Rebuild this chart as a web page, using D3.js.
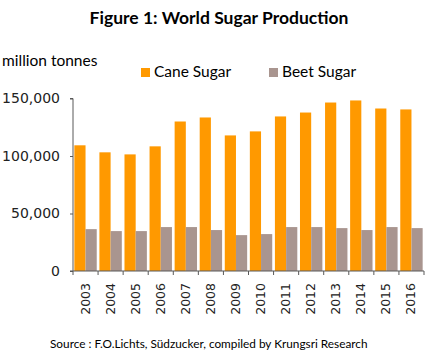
<!DOCTYPE html>
<html><head><meta charset="utf-8">
<script src="https://cdn.jsdelivr.net/npm/d3@7"></script>
<style>body{margin:0;background:#fff}svg{display:block}</style>
</head><body>
<script>
const years = ["2003","2004","2005","2006","2007","2008","2009","2010","2011","2012","2013","2014","2015","2016"];
const caneSugar = [109300,103200,101400,108400,130000,133500,117900,121400,134400,137800,146500,148300,141300,140500];
const beetSugar = [36400,34700,34700,38200,38200,35600,31200,32100,38200,38200,37300,35600,38200,37300];
const yTicks = [0,50000,100000,150000];
const seriesNames = ["Cane Sugar","Beet Sugar"];
const colors = ["#ff9900","#a9958f"];

(function(){
const W = 432, H = 360;
const svg = d3.select("body").append("svg").attr("width", W).attr("height", H);
const mLeft = 73, mRight = 424, mTop = 98.5, mBottom = 271;

const x = d3.scaleBand().domain(years).range([mLeft, mRight]).paddingInner(0).paddingOuter(0);
const x1 = d3.scaleBand().domain(seriesNames).range([0, x.bandwidth()]).paddingOuter(0.12).paddingInner(0);
const y = d3.scaleLinear().domain([0,150000]).range([mBottom, mTop]);

svg.append("text").attr("x", 219).attr("y", 24).attr("text-anchor","middle")
  .style("font-family","Lato, 'Open Sans', sans-serif").style("font-weight","bold").style("font-size","17.5px")
  .attr("fill","#000").text("Figure 1: World Sugar Production");

svg.append("text").attr("x", 2).attr("y", 66)
  .style("font-family","Lato, sans-serif").style("font-size","15.5px").attr("fill","#000").text("million tonnes");

const legX = [141, 269];
seriesNames.forEach((n,i)=>{
  svg.append("rect").attr("x", legX[i]).attr("y", 68).attr("width", 9).attr("height", 9).attr("fill", colors[i]);
  svg.append("text").attr("x", legX[i]+13).attr("y", 77)
    .style("font-family","Lato, sans-serif").style("font-size","15.5px").attr("fill","#000").text(n);
});

const data = years.map((yr,i)=>({yr, vals:[caneSugar[i], beetSugar[i]]}));
const g = svg.append("g");
data.forEach(d=>{
  d.vals.forEach((v,j)=>{
    g.append("rect").attr("x", x(d.yr)+x1(seriesNames[j])).attr("width", x1.bandwidth())
      .attr("y", y(v)).attr("height", y(0)-y(v)).attr("fill", colors[j]);
  });
});

const axisColor = "#595959";
const ya = svg.append("g").attr("transform",`translate(${mLeft},0)`)
  .call(d3.axisLeft(y).tickValues(yTicks).tickSize(3).tickPadding(10).tickFormat(d3.format(",")));
ya.select(".domain").attr("stroke", axisColor).attr("d", `M-3,${mTop}H0V${mBottom}`);
ya.selectAll(".tick line").attr("stroke", axisColor);
ya.selectAll("text").style("font-family","'DejaVu Sans', sans-serif").style("font-size","14px").attr("fill","#222");

const xa = svg.append("g").attr("transform",`translate(0,${mBottom})`);
xa.append("line").attr("x1", mLeft-3).attr("x2", mRight).attr("y1",0).attr("y2",0).attr("stroke", axisColor);
const bounds = years.map(yr=>x(yr)).concat([x(years[years.length-1])+x.bandwidth()]);
bounds.forEach(b=>{
  xa.append("line").attr("x1", b).attr("x2", b).attr("y1", 0).attr("y2", 4).attr("stroke", axisColor);
});
years.forEach(yr=>{
  xa.append("text").attr("transform", `translate(${x(yr)+x.bandwidth()/2+4},12) rotate(-90)`)
    .attr("text-anchor","end")
    .style("font-family","'DejaVu Sans', sans-serif").style("font-size","12.5px").attr("fill","#222").text(yr);
});

svg.append("text").attr("x", 50).attr("y", 348)
  .style("font-family","Lato, sans-serif").style("font-size","11.8px").attr("fill","#000")
  .text("Source : F.O.Lichts, Südzucker, compiled by Krungsri Research");
})();
</script>
</body></html>
